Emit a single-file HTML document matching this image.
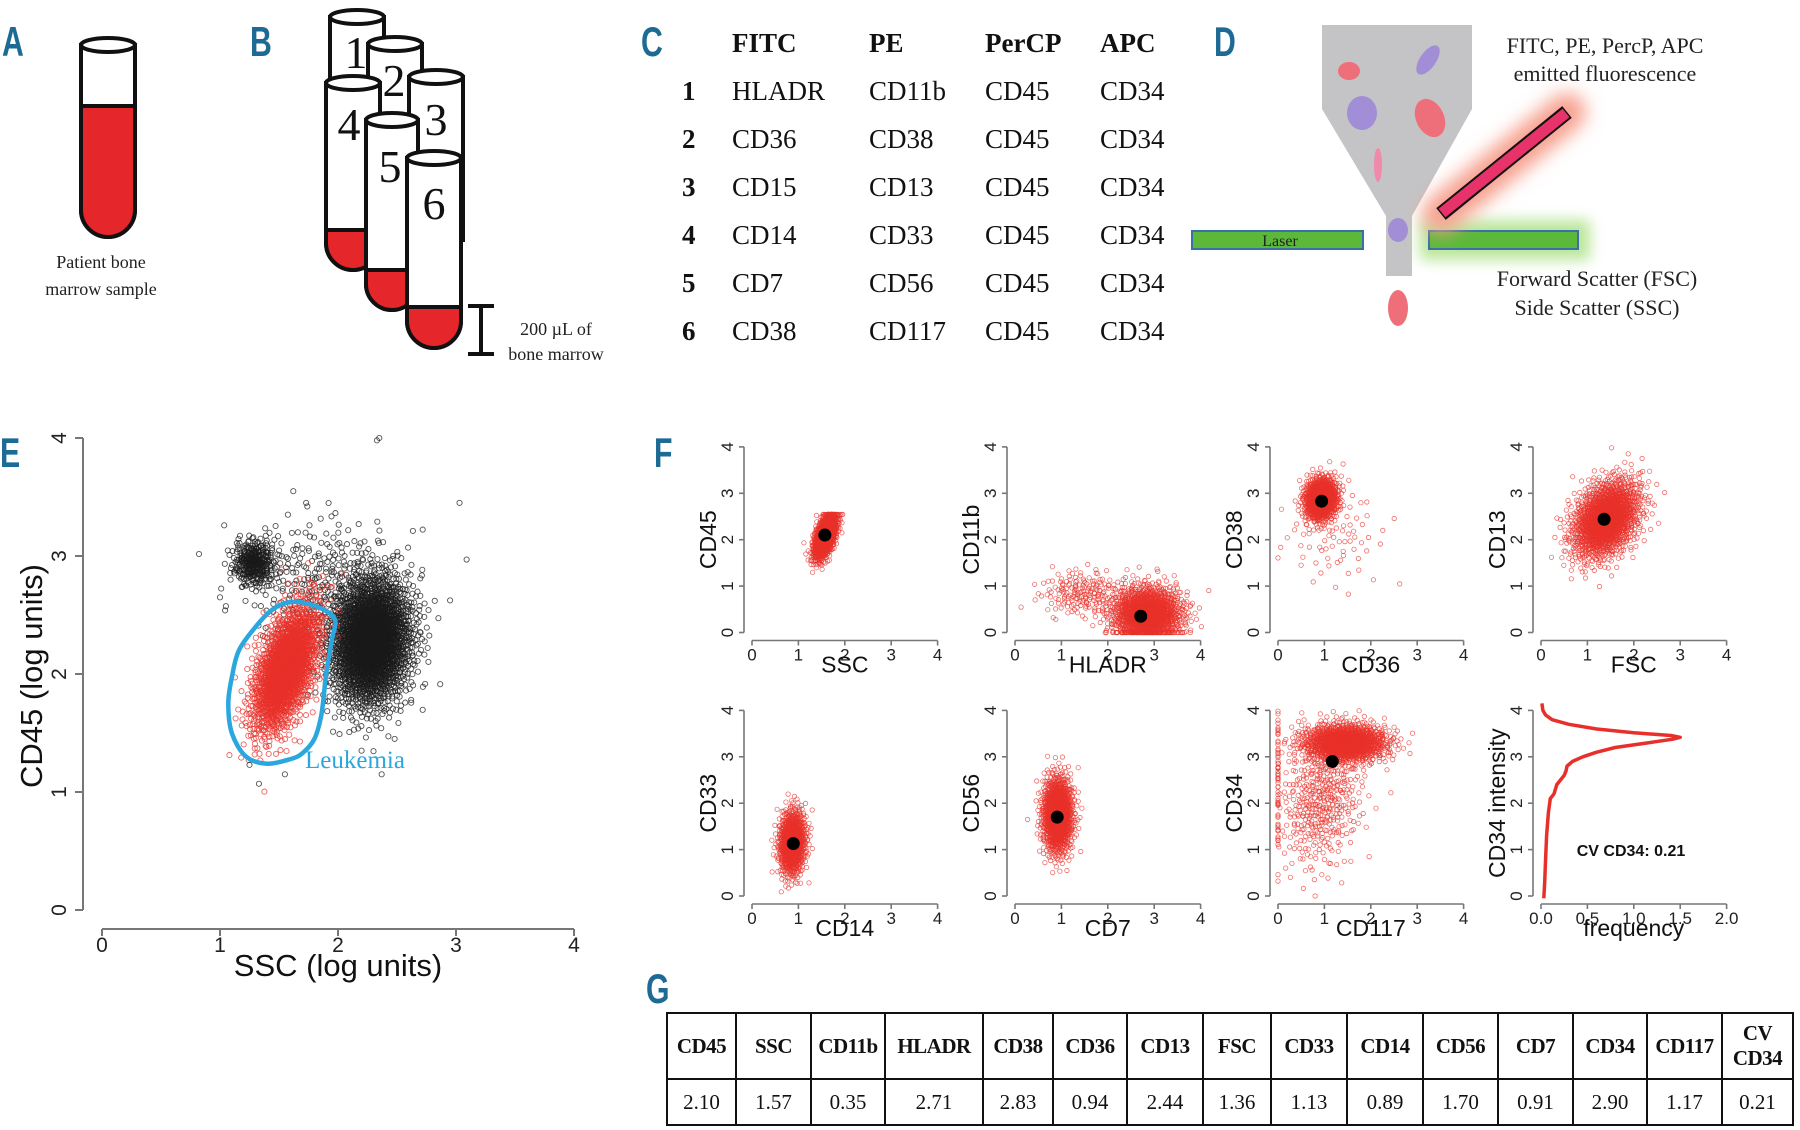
<!DOCTYPE html>
<html><head><meta charset="utf-8"><title>Flow cytometry figure</title>
<style>
html,body{margin:0;padding:0;background:#fff;}
body{width:1800px;height:1130px;position:relative;overflow:hidden;font-family:"Liberation Sans",sans-serif;}
svg{position:absolute;left:0;top:0;}
.serif{font-family:"Liberation Serif",serif;}
.lbl{font-family:"Liberation Sans",sans-serif;font-weight:bold;fill:#1d6a94;}
#gtable{position:absolute;left:666px;top:1012px;border-collapse:collapse;font-family:"Liberation Serif",serif;font-size:21px;color:#111;}
#gtable td{border:2px solid #111;text-align:center;padding:0;}
#gtable tr.h td{height:64px;font-weight:bold;letter-spacing:-0.5px;}
#gtable tr.v td{height:44px;}
</style></head>
<body>
<svg id="fig" width="1800" height="1130" viewBox="0 0 1800 1130" xmlns="http://www.w3.org/2000/svg">
<defs>
<filter id="glowR" x="-50%" y="-50%" width="200%" height="200%"><feGaussianBlur stdDeviation="9"/></filter>
<filter id="glowG" x="-50%" y="-50%" width="200%" height="200%"><feGaussianBlur stdDeviation="7"/></filter>
</defs>
<g>
<text class="lbl" x="2" y="56" font-size="42" transform="translate(2,56) scale(0.72,1) translate(-2,-56)">A</text>
<text class="lbl" x="250" y="56" font-size="42" transform="translate(250,56) scale(0.72,1) translate(-250,-56)">B</text>
<text class="lbl" x="641" y="56" font-size="42" transform="translate(641,56) scale(0.72,1) translate(-641,-56)">C</text>
<text class="lbl" x="1214" y="56" font-size="42" transform="translate(1214,56) scale(0.72,1) translate(-1214,-56)">D</text>
<text class="lbl" x="0" y="467" font-size="42" transform="translate(0,467) scale(0.72,1) translate(0,-467)">E</text>
<text class="lbl" x="654" y="467" font-size="42" transform="translate(654,467) scale(0.72,1) translate(-654,-467)">F</text>
<text class="lbl" x="646" y="1003" font-size="42" transform="translate(646,1003) scale(0.72,1) translate(-646,-1003)">G</text>
</g>
<g id="panelA"></g>
<g id="panelB"></g>
<g id="panelC"></g>
<g id="panelD">
  <path d="M1322,25 L1472,25 L1472,109 L1412,216 L1412,276 L1386,276 L1386,216 L1322,109 Z" fill="#c4c4c6"/>
  <ellipse cx="1349" cy="71" rx="11" ry="9" fill="#ee6f7a"/>
  <ellipse cx="1428" cy="60" rx="8" ry="17" transform="rotate(35 1428 60)" fill="#a18ed6"/>
  <ellipse cx="1362" cy="113" rx="15" ry="17" fill="#a18ed6"/>
  <ellipse cx="1430" cy="118" rx="14" ry="20" transform="rotate(-25 1430 118)" fill="#ee6f7a"/>
  <ellipse cx="1378" cy="165" rx="4" ry="17" fill="#f08aa8"/>
  <ellipse cx="1398" cy="230" rx="10" ry="12" fill="#a18ed6"/>
  <ellipse cx="1398" cy="308" rx="10" ry="18" fill="#ee6f7a"/>
  <rect x="1192" y="231" width="171" height="18" fill="#5cb83a" stroke="#3a6fa8" stroke-width="2"/>
  <text class="serif" x="1280" y="246" font-size="16" text-anchor="middle" fill="#222">Laser</text>
  <rect x="1420" y="220" width="170" height="40" fill="#b9e69a" filter="url(#glowG)"/>
  <rect x="1429" y="231" width="149" height="18" fill="#5cb83a" stroke="#3a6fa8" stroke-width="2"/>
  <line x1="1441" y1="214" x2="1567" y2="112" stroke="#f7a08e" stroke-width="38" stroke-linecap="round" filter="url(#glowR)"/>
  <line x1="1441" y1="214" x2="1567" y2="112" stroke="#111" stroke-width="15"/>
  <line x1="1442" y1="213" x2="1566" y2="113" stroke="#e8336a" stroke-width="11"/>
  <text class="serif" x="1605" y="53" font-size="22" text-anchor="middle" fill="#222">FITC, PE, PercP, APC</text>
  <text class="serif" x="1605" y="81" font-size="22" text-anchor="middle" fill="#222">emitted fluorescence</text>
  <text class="serif" x="1597" y="286" font-size="22" text-anchor="middle" fill="#222">Forward Scatter (FSC)</text>
  <text class="serif" x="1597" y="315" font-size="22" text-anchor="middle" fill="#222">Side Scatter (SSC)</text>
</g>
<g id="panelE"></g>
<g id="panelF"></g>
</svg>

<table id="gtable">
<colgroup id="gcols"></colgroup>
<tr class="h" id="ghead"></tr>
<tr class="v" id="gvals"></tr>
</table>

<script>
// ===== Data arrays =====
const cHeaders = ["FITC","PE","PerCP","APC"];
const cFitc = ["HLADR","CD36","CD15","CD14","CD7","CD38"];
const cPe = ["CD11b","CD38","CD13","CD33","CD56","CD117"];
const cPercp = ["CD45","CD45","CD45","CD45","CD45","CD45"];
const cApc = ["CD34","CD34","CD34","CD34","CD34","CD34"];

const eClusterColor = ["black","black","black","red"];
const eClusterCx = [2.28, 1.29, 1.85, 1.56];
const eClusterCy = [2.28, 2.94, 2.80, 2.05];
const eClusterSx = [0.17, 0.09, 0.33, 0.14];
const eClusterSy = [0.27, 0.10, 0.26, 0.27];
const eClusterRho = [0.1, 0.0, 0.0, 0.55];
const eClusterN = [2600, 320, 260, 1900];
const eOutX = [1.73,1.74,3.03,3.09,2.35,2.33,1.0,2.82,2.7,2.48,2.62,1.33,2.37,1.55,2.2,1.25];
const eOutY = [3.45,3.42,3.45,2.97,4.0,3.98,2.65,2.62,2.35,1.45,1.78,1.07,1.15,1.15,1.35,1.23];
const eGateX = [1.60,1.80,1.97,1.95,1.90,1.86,1.80,1.70,1.60,1.40,1.22,1.10,1.07,1.10,1.16,1.31,1.45];
const eGateY = [2.61,2.58,2.47,2.30,2.00,1.66,1.45,1.33,1.28,1.24,1.30,1.50,1.75,1.97,2.20,2.41,2.55];

const fXLabels = ["SSC","HLADR","CD36","FSC","CD14","CD7","CD117"];
const fYLabels = ["CD45","CD11b","CD38","CD13","CD33","CD56","CD34"];
const fMeansX = [1.57, 2.71, 0.94, 1.36, 0.89, 0.91, 1.17];
const fMeansY = [2.10, 0.35, 2.83, 2.44, 1.13, 1.70, 2.90];
const fClusterPanel = [0, 1, 1, 2, 2, 3, 4, 5, 6, 6, 6];
const fClusterCx = [1.58, 2.85, 1.45, 0.93, 1.20, 1.40, 0.87, 0.92, 1.45, 0.95, 0.0];
const fClusterCy = [2.08, 0.40, 0.85, 2.88, 2.10, 2.45, 1.15, 1.75, 3.30, 2.10, 2.60];
const fClusterSx = [0.12, 0.38, 0.45, 0.17, 0.55, 0.36, 0.14, 0.16, 0.45, 0.45, 0.0];
const fClusterSy = [0.24, 0.30, 0.25, 0.22, 0.55, 0.42, 0.34, 0.40, 0.20, 0.75, 0.85];
const fClusterRho = [0.55, 0.0, 0.0, 0.1, 0.0, 0.35, 0.1, 0.0, 0.0, 0.2, 0.0];
const fClusterN = [1300, 1400, 180, 1100, 80, 1700, 1000, 1300, 1300, 450, 55];
const fClusterMaxY = [2.55, 4, 4, 4, 4, 4, 4, 4, 4, 4, 4];

const densIntensity = [-0.05,0.3,0.8,1.3,1.8,2.1,2.2,2.4,2.6,2.7,2.8,2.9,3.0,3.1,3.2,3.3,3.38,3.42,3.46,3.52,3.6,3.7,3.8,3.9,4.0,4.15];
const densFreq =      [0.03,0.04,0.05,0.06,0.08,0.10,0.14,0.17,0.25,0.27,0.28,0.34,0.45,0.60,0.80,1.15,1.42,1.50,1.40,1.00,0.60,0.30,0.12,0.05,0.02,0.01];
const densCV = "CV CD34: 0.21";

const gHeaders = ["CD45","SSC","CD11b","HLADR","CD38","CD36","CD13","FSC","CD33","CD14","CD56","CD7","CD34","CD117","CV<br>CD34"];
const gValues = ["2.10","1.57","0.35","2.71","2.83","0.94","2.44","1.36","1.13","0.89","1.70","0.91","2.90","1.17","0.21"];

const NS = "http://www.w3.org/2000/svg";
function mk(tag, attrs, parent){
  const e = document.createElementNS(NS, tag);
  for (const k in attrs) e.setAttribute(k, attrs[k]);
  if (parent) parent.appendChild(e);
  return e;
}
function halton(i, b){ let f=1, r=0; while(i>0){ f/=b; r+=f*(i%b); i=Math.floor(i/b);} return r; }
function gauss(i){
  const u1 = Math.max(halton(i,2),1e-6), u2 = halton(i,3);
  const r = Math.sqrt(-2*Math.log(u1));
  return [r*Math.cos(2*Math.PI*u2), r*Math.sin(2*Math.PI*u2)];
}

function tube(g, x, top, w, bottom, redTop, name){
  const grp = mk("g", {}, g);
  
  
  const r = w/2;
  const body = mk("path", {d:`M${x},${top} L${x},${bottom-r} A${r},${r} 0 0 0 ${x+w},${bottom-r} L${x+w},${top} Z`, fill:"#fff", stroke:"#111", "stroke-width":4}, grp);
  
  
  const red = mk("path", {d:`M${x},${redTop} L${x},${bottom-r} A${r},${r} 0 0 0 ${x+w},${bottom-r} L${x+w},${redTop} Z`, fill:"#e5262b", stroke:"#111", "stroke-width":4}, grp);
  
  
  const cap = mk("ellipse", {cx:x+r, cy:top, rx:r, ry:7, fill:"#fff", stroke:"#111", "stroke-width":4}, grp);
  
  
  return grp;
}
(function(){
  const g = document.getElementById("panelA");
  tube(g, 81, 45, 54, 237, 106, "sample-tube");
  const t1 = mk("text", {x:101, y:268, "font-size":18, "text-anchor":"middle", class:"serif", fill:"#222"}, g);
  t1.textContent = "Patient bone";
  
  
  const t2 = mk("text", {x:101, y:295, "font-size":18, "text-anchor":"middle", class:"serif", fill:"#222"}, g);
  t2.textContent = "marrow sample";
  
  
})();

(function(){
  const g = document.getElementById("panelB");
  const tubes = [
    {x:330,top:17,w:54,b:180,rt:175,n:"1",lx:356,ly:68},
    {x:368,top:44,w:54,b:210,rt:205,n:"2",lx:394,ly:96},
    {x:409,top:77,w:54,b:245,rt:240,n:"3",lx:436,ly:135},
    {x:326,top:83,w:54,b:270,rt:230,n:"4",lx:349,ly:140},
    {x:366,top:120,w:52,b:310,rt:270,n:"5",lx:390,ly:182},
    {x:407,top:158,w:54,b:348,rt:307,n:"6",lx:434,ly:219}
  ];
  tubes.forEach((t)=>{
    const tg = tube(g, t.x, t.top, t.w, t.b, t.rt, "tube-" + t.n);
    const lab = mk("text", {x:t.lx, y:t.ly, "font-size":46, "text-anchor":"middle", class:"serif", fill:"#111"}, tg);
    lab.textContent = t.n;
    
    
  });
  const br = mk("path", {d:"M468,306 L494,306 M481,306 L481,354 M468,354 L494,354", stroke:"#111", "stroke-width":4, fill:"none"}, g);
  
  
  const a = mk("text", {x:556, y:335, "font-size":18, "text-anchor":"middle", class:"serif", fill:"#222"}, g);
  a.textContent = "200 µL of";
  
  
  const b = mk("text", {x:556, y:360, "font-size":18, "text-anchor":"middle", class:"serif", fill:"#222"}, g);
  b.textContent = "bone marrow";
  
  
})();

(function(){
  const g = document.getElementById("panelC");
  const colX = [732, 869, 985, 1100];
  const rowY = [100, 148, 196, 244, 292, 340];
  cHeaders.forEach((h,i)=>{
    const t = mk("text", {x:colX[i], y:52, "font-size":27, "font-weight":"bold", class:"serif", fill:"#111"}, g);
    t.textContent = h;
    
    
  });
  const cols = [cFitc, cPe, cPercp, cApc];
  for (let r=0;r<6;r++){
    const n = mk("text", {x:682, y:rowY[r], "font-size":27, "font-weight":"bold", class:"serif", fill:"#111"}, g);
    n.textContent = String(r+1);
    
    
    cols.forEach((c,i)=>{
      const t = mk("text", {x:colX[i], y:rowY[r], "font-size":27, class:"serif", fill:"#111"}, g);
      t.textContent = c[r];
      
      
    });
  }
})();

(function(){
  const g = document.getElementById("panelE");
  const X0 = 102, Y0 = 910, U = 118;
  const sx = v => X0 + v*U, sy = v => Y0 - v*U;
  const ya = mk("path", {d:`M${X0-19},${sy(0)} L${X0-19},${sy(4)}`, stroke:"#777", "stroke-width":2, fill:"none"}, g);
  
  
  const xa = mk("path", {d:`M${sx(0)},929 L${sx(4)},929`, stroke:"#777", "stroke-width":2, fill:"none"}, g);
  
  
  for (let k=0;k<=4;k++){
    const tk = mk("line", {x1:X0-19, x2:X0-27, y1:sy(k), y2:sy(k), stroke:"#777","stroke-width":2}, g);
    
    
    const tl = mk("text", {x:0, y:0, "font-size":21, "text-anchor":"middle", fill:"#222", transform:`translate(${X0-36},${sy(k)}) rotate(-90)`}, g);
    tl.textContent = k;
    
    
    const tx = mk("line", {x1:sx(k), x2:sx(k), y1:929, y2:936, stroke:"#777","stroke-width":2}, g);
    
    
    const xl = mk("text", {x:sx(k), y:952, "font-size":21, "text-anchor":"middle", fill:"#222"}, g);
    xl.textContent = k;
    
    
  }
  const yt = mk("text", {x:0,y:0,"font-size":31,"text-anchor":"middle",fill:"#111",transform:`translate(42,676) rotate(-90)`}, g);
  yt.textContent = "CD45 (log units)";
  
  
  const xt = mk("text", {x:338,y:976,"font-size":31,"text-anchor":"middle",fill:"#111"}, g);
  xt.textContent = "SSC (log units)";
  
  
  let seed = 1;
  eClusterCx.forEach((cx,c)=>{
    const cg = mk("g", {fill:"none", stroke: eClusterColor[c]==="red" ? "#e8302a" : "#1a1a1a", "stroke-width":0.9, "stroke-opacity":0.75}, g);
    
    
    const rho = eClusterRho[c];
    for (let i=0;i<eClusterN[c];i++){
      const z = gauss(seed++ * 7 + 3);
      const dx = z[0], dy = rho*z[0] + Math.sqrt(1-rho*rho)*z[1];
      const vx = cx + dx*eClusterSx[c], vy = eClusterCy[c] + dy*eClusterSy[c];
      const p = mk("circle", {cx:sx(vx).toFixed(1), cy:sy(vy).toFixed(1), r:2.6}, cg);
      
      
    }
  });
  const og = mk("g", {fill:"none", stroke:"#1a1a1a", "stroke-width":0.9, "stroke-opacity":0.75}, g);
  
  
  eOutX.forEach((v,i)=>{
    const p = mk("circle", {cx:sx(v), cy:sy(eOutY[i]), r:2.6}, og);
    
    
  });
  const pts = eGateX.map((v,i)=>[sx(v), sy(eGateY[i])]);
  let d = "";
  const n = pts.length;
  for (let i=0;i<n;i++){
    const p0=pts[(i-1+n)%n], p1=pts[i], p2=pts[(i+1)%n], p3=pts[(i+2)%n];
    if (i===0) d += `M${p1[0].toFixed(1)},${p1[1].toFixed(1)}`;
    const c1=[p1[0]+(p2[0]-p0[0])/6, p1[1]+(p2[1]-p0[1])/6];
    const c2=[p2[0]-(p3[0]-p1[0])/6, p2[1]-(p3[1]-p1[1])/6];
    d += ` C${c1[0].toFixed(1)},${c1[1].toFixed(1)} ${c2[0].toFixed(1)},${c2[1].toFixed(1)} ${p2[0].toFixed(1)},${p2[1].toFixed(1)}`;
  }
  const gate = mk("path", {d:d+"Z", fill:"none", stroke:"#2aa7df", "stroke-width":4.5}, g);
  
  
  const gl = mk("text", {x:305, y:768, "font-size":25, class:"serif", fill:"#2aa7df"}, g);
  gl.textContent = "Leukemia";
  
  
})();

(function(){
  const g = document.getElementById("panelF");
  const U = 46.4;
  const colX0 = [752, 1015, 1278, 1541];
  const rowY0 = [632.5, 896];
  function axes(pg, X0, Y0, xTicks, xScale, xLab, yLab){
    const ya = mk("path", {d:`M${X0-8},${Y0} L${X0-8},${Y0-4*U}`, stroke:"#777","stroke-width":1.6,fill:"none"}, pg);
    
    
    const xa = mk("path", {d:`M${X0},${Y0+8} L${X0+4*U},${Y0+8}`, stroke:"#777","stroke-width":1.6,fill:"none"}, pg);
    
    
    for (let k=0;k<=4;k++){
      const yk = Y0 - k*U;
      const t = mk("line", {x1:X0-8,x2:X0-13,y1:yk,y2:yk,stroke:"#777","stroke-width":1.6}, pg);
      
      
      const l = mk("text", {x:0,y:0,"font-size":17,"text-anchor":"middle",fill:"#222",transform:`translate(${X0-19},${yk}) rotate(-90)`}, pg);
      l.textContent = k;
      
      
    }
    xTicks.forEach(v=>{
      const xk = X0 + xScale(v);
      const t = mk("line", {x1:xk,x2:xk,y1:Y0+8,y2:Y0+13,stroke:"#777","stroke-width":1.6}, pg);
      
      
      const l = mk("text", {x:xk,y:Y0+28,"font-size":17,"text-anchor":"middle",fill:"#222"}, pg);
      l.textContent = v;
      
      
    });
    const xl = mk("text", {x:X0+2*U,y:Y0+40,"font-size":23,"text-anchor":"middle",fill:"#111"}, pg);
    xl.textContent = xLab;
    
    
    const yl = mk("text", {x:0,y:0,"font-size":23,"text-anchor":"middle",fill:"#111",transform:`translate(${X0-36},${Y0-2*U}) rotate(-90)`}, pg);
    yl.textContent = yLab;
    
    
  }
  const panels = [];
  for (let p=0;p<7;p++){
    const X0 = colX0[p%4], Y0 = rowY0[Math.floor(p/4)];
    const pg = mk("g", {}, g);
    
    
    axes(pg, X0, Y0, ["0","1","2","3","4"], v=>Number(v)*U, fXLabels[p], fYLabels[p]);
    const cg = mk("g", {fill:"none", stroke:"#e8302a","stroke-width":0.8,"stroke-opacity":0.7}, pg);
    
    
    panels.push({X0,Y0,pg,cg});
  }
  let seed = 11;
  fClusterPanel.forEach((p,c)=>{
    const P = panels[p];
    const rho = fClusterRho[c];
    for (let i=0;i<fClusterN[c];i++){
      const z = gauss(seed++ * 5 + 1);
      const dx = z[0], dy = rho*z[0] + Math.sqrt(1-rho*rho)*z[1];
      let vx = fClusterCx[c] + dx*fClusterSx[c];
      let vy = fClusterCy[c] + dy*fClusterSy[c];
      if (vy > fClusterMaxY[c]) vy = fClusterMaxY[c] - (vy - fClusterMaxY[c])*0.1;
      if (vy < 0) vy = 0;
      if (vx < 0) vx = 0;
      const pt = mk("circle", {cx:(P.X0+vx*U).toFixed(1), cy:(P.Y0-vy*U).toFixed(1), r:2.2}, P.cg);
      
      
    }
  });
  panels.forEach((P,p)=>{
    const m = mk("circle", {cx:P.X0+fMeansX[p]*U, cy:P.Y0-fMeansY[p]*U, r:6.5, fill:"#000"}, P.pg);
    
    
  });
  const X0 = colX0[3], Y0 = rowY0[1];
  const fx = v => v/2*4*U;
  const dg = mk("g", {}, g);
  
  
  axes(dg, X0, Y0, ["0.0","0.5","1.0","1.5","2.0"], v=>fx(Number(v)), "frequency", "CD34 intensity");
  const d = densIntensity.map((v,i)=>(i?"L":"M")+(X0+fx(densFreq[i])).toFixed(1)+","+(Y0-v*U).toFixed(1)).join(" ");
  const line = mk("path", {d, fill:"none", stroke:"#e8302a","stroke-width":3.5,"stroke-linejoin":"round"}, dg);
  
  
  const cv = mk("text", {x:1631,y:856,"font-size":16,"font-weight":"bold","text-anchor":"middle",fill:"#111"}, dg);
  cv.textContent = densCV;
  
  
})();

(function(){
  const bounds = [666,735,810,884,982,1052,1126,1202,1270,1346,1422,1497,1572,1646,1721,1792];
  const cols = document.getElementById("gcols");
  const hr = document.getElementById("ghead"), vr = document.getElementById("gvals");
  gHeaders.forEach((h,i)=>{
    const c = document.createElement("col");
    c.style.width = (bounds[i+1]-bounds[i]) + "px";
    cols.appendChild(c);
    const th = document.createElement("td");
    th.innerHTML = h;
    
    
    hr.appendChild(th);
    const td = document.createElement("td");
    td.textContent = gValues[i];
    
    
    vr.appendChild(td);
  });
  document.getElementById("gtable").style.width = (bounds[bounds.length-1]-bounds[0]) + "px";
  document.getElementById("gtable").style.tableLayout = "fixed";
})();
</script>
</body></html>
